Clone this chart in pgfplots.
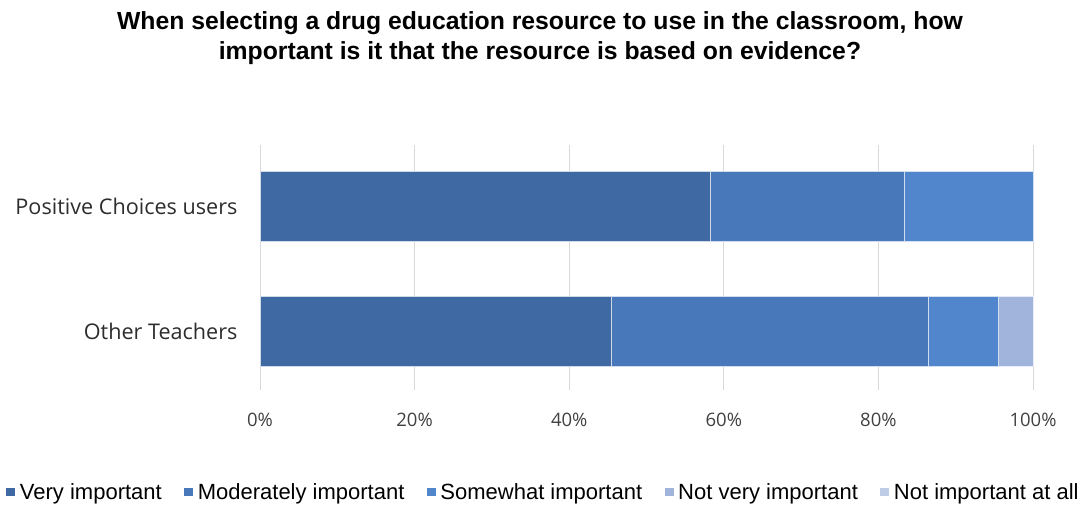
\documentclass[border=0pt]{standalone}
\usepackage{pgfplots}
\pgfplotsset{compat=1.18}
\usepackage{fontspec}
\setmainfont{Liberation Sans}
\newfontfamily\osans{Open Sans}
\definecolor{c1}{HTML}{3F69A2}
\definecolor{c2}{HTML}{4877BA}
\definecolor{c3}{HTML}{5185CC}
\definecolor{c4}{HTML}{A1B4DC}
\definecolor{c5}{HTML}{BFCCE6}
\definecolor{gridc}{HTML}{D9D9D9}
\definecolor{tickc}{HTML}{404040}
\begin{document}
\begin{tikzpicture}[x=1pt,y=1pt]
\path (0,0) rectangle (1079,504);
\node[font=\bfseries\fontsize{24.75}{30}\selectfont, align=center, text=black] at (540,465.5)
  {When selecting a drug education resource to use in the classroom, how\\important is it that the resource is based on evidence?};
\begin{axis}[
  at={(260pt,114pt)}, anchor=south west,
  scale only axis, width=773pt, height=245pt,
  xbar stacked, bar width=70pt,
  xmin=0, xmax=100, ymin=-0.472, ymax=1.488,
  axis line style={draw=none},
  xmajorgrids, grid style={gridc, line width=0.8pt},
  xtick={0,20,40,60,80,100},
  xticklabel={\pgfmathprintnumber{\tick}\%},
  /pgf/number format/assume math mode=true,
  xticklabel style={font=\osans\fontsize{18.5}{20}\selectfont, text=tickc, yshift=-20pt},
  ytick={0,1}, yticklabels={Other Teachers, Positive Choices users},
  yticklabel style={font=\osans\fontsize{21.6}{23}\selectfont, text=tickc!70!black, xshift=-19pt},
  major tick length=0pt,
  legend columns=5,
  legend style={draw=none, fill=none, at={(0.3655,-0.416)}, anchor=center,
    font=\fontsize{22}{24}\selectfont, inner sep=0pt,
    nodes={inner sep=0pt},
    /tikz/every odd column/.append style={column sep=4.5pt},
    /tikz/every even column/.append style={column sep=22.5pt}},
  legend image code/.code={\fill[#1,draw=none] (0pt,-4pt) rectangle (9pt,4pt);},
  clip=false,
]
\addplot[fill=c1, draw=white!75!c1, line width=0.6pt] coordinates {(58.3,1) (45.5,0)};
\addplot[fill=c2, draw=white!75!c2, line width=0.6pt] coordinates {(25.0,1) (40.9,0)};
\addplot[fill=c3, draw=white!75!c3, line width=0.6pt] coordinates {(16.7,1) (9.1,0)};
\addplot[fill=c4, draw=white!75!c4, line width=0.6pt] coordinates {(0,1) (4.5,0)};
\addplot[fill=c5, draw=none] coordinates {(0,1) (0,0)};
\legend{Very important, Moderately important, Somewhat important, Not very important, Not important at all}
\end{axis}
\pgfresetboundingbox
\path (0,0) rectangle (1079,504);
\end{tikzpicture}
\end{document}
